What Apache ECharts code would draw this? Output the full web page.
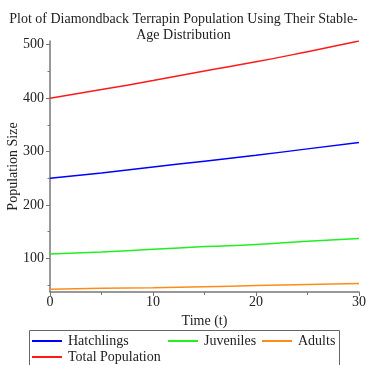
<!DOCTYPE html>
<html>
<head>
<meta charset="utf-8">
<script src="https://cdn.jsdelivr.net/npm/echarts@6/dist/echarts.min.js"></script>
<style>html,body{margin:0;padding:0;background:#fff}#c{width:367px;height:365px}</style>
</head>
<body>
<div id="c"></div>
<script>
const times = [0, 5, 10, 15, 20, 25, 30];
const hatchlings = [250, 260, 271, 282, 293, 305, 317];
const juveniles = [108, 112, 117, 122, 126, 132, 137];
const adults = [42, 44, 45, 47, 49, 51, 53];
const totalPop = [400, 416, 433, 451, 468, 487, 507];
const yMajorTicks = [100, 200, 300, 400, 500];
const yMinorTicks = [50, 150, 250, 350, 450];
const seriesNames = ['Hatchlings', 'Juveniles', 'Adults', 'Total Population'];

const serif = 'Liberation Serif';
const pair = arr => times.map((t, i) => [t, arr[i]]);
const colors = ['#0000ff', '#22ee22', '#ff8c1a', '#ff1a1a'];
const data = [hatchlings, juveniles, adults, totalPop];

const chart = echarts.init(document.getElementById('c'), null, {renderer: 'canvas'});
const yMin = 37, yMax = 507;
const legendPos = [[32, 334], [168, 334], [262, 334], [32, 350]];
chart.setOption({
  animation: false,
  backgroundColor: '#fff',
  title: {
    text: 'Plot of Diamondback Terrapin Population Using Their Stable-\nAge Distribution',
    left: 'center', top: 6,
    textStyle: {fontFamily: serif, fontSize: 14, fontWeight: 'normal', color: '#222', lineHeight: 16}
  },
  legend: seriesNames.map((n, i) => ({
    data: [n], left: legendPos[i][0], top: legendPos[i][1], padding: 0,
    icon: 'rect', itemWidth: 30, itemHeight: 2,
    textStyle: {fontFamily: serif, fontSize: 14, color: '#222', padding: [0,0,0,1]}
  })),
  graphic: [{
    type: 'rect', shape: {x: 29.5, y: 330.5, width: 310, height: 40},
    style: {fill: 'none', stroke: '#666', lineWidth: 1}, silent: true
  }],
  grid: {left: 50, right: 8, top: 41, bottom: 73, containLabel: false, outerBoundsMode: 'none'},
  xAxis: {
    type: 'value', min: 0, max: 30, interval: 10,
    name: 'Time (t)', nameLocation: 'middle', nameGap: 22, nameMoveOverlap: false,
    nameTextStyle: {fontFamily: serif, fontSize: 14, color: '#222'},
    axisLine: {lineStyle: {color: '#777', width: 1.5}},
    axisTick: {length: 4, lineStyle: {color: '#777'}},
    minorTick: {show: true, splitNumber: 2, length: 3, lineStyle: {color: '#777'}},
    splitLine: {show: false},
    axisLabel: {fontFamily: serif, fontSize: 14, color: '#222', margin: 3}
  },
  yAxis: [{
    type: 'value', min: yMin, max: yMax,
    name: 'Population Size', nameLocation: 'middle', nameGap: 30, nameMoveOverlap: false,
    nameTextStyle: {fontFamily: serif, fontSize: 14, color: '#222'},
    axisLine: {show: true, lineStyle: {color: '#777', width: 1.5}},
    axisTick: {show: true, length: 4, customValues: yMajorTicks, lineStyle: {color: '#777'}},
    axisLabel: {fontFamily: serif, fontSize: 14, color: '#222', margin: 6, customValues: yMajorTicks},
    splitLine: {show: false}
  }, {
    type: 'value', min: yMin, max: yMax, position: 'left',
    axisLine: {show: false},
    axisTick: {show: true, length: 2.5, customValues: yMinorTicks, lineStyle: {color: '#777'}},
    axisLabel: {show: false, customValues: yMinorTicks},
    splitLine: {show: false}
  }],
  series: seriesNames.map((n, i) => ({
    name: n, type: 'line', data: pair(data[i]), smooth: true, showSymbol: false,
    lineStyle: {color: colors[i], width: 1.5}, itemStyle: {color: colors[i]}, z: 3
  }))
});
</script>
</body>
</html>
